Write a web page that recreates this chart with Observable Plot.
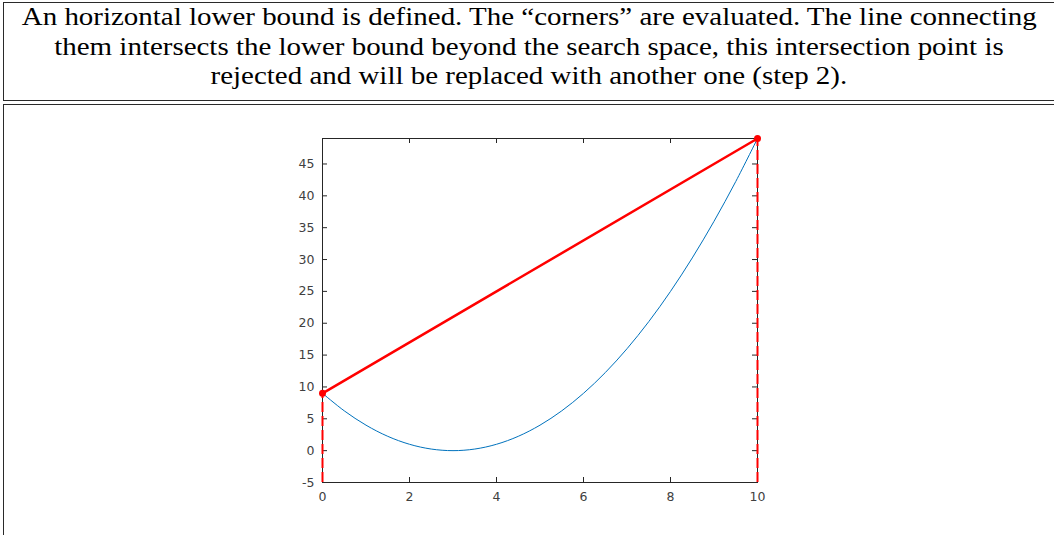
<!DOCTYPE html>
<html>
<head>
<meta charset="utf-8">
<script src="https://cdn.jsdelivr.net/npm/d3@7"></script>
<script src="https://cdn.jsdelivr.net/npm/@observablehq/plot@0.6"></script>
<style>
  html, body { margin: 0; padding: 0; background: #fff; width: 1054px; height: 535px; overflow: hidden; }
  #cap { position: absolute; left: 3px; top: 2px; width: 1056px; height: 99px; border: 1.5px solid #2a2a2a; box-sizing: border-box; }
  #cap .ln { position: absolute; left: 0; width: 1050px; text-align: center; white-space: nowrap;
             font-family: "Liberation Serif", "Times New Roman", serif; font-size: 25px; line-height: 30px; color: #000; }
  #box { position: absolute; left: 3px; top: 104px; width: 1060px; height: 500px; border: 1.5px solid #2a2a2a; box-sizing: border-box; }
  #chart { position: absolute; left: 0; top: 104px; }
  #chart svg text { font-family: "DejaVu Sans", sans-serif !important; font-size: 12.5px !important; }
</style>
</head>
<body>
<div id="cap"></div>
<div id="box"></div>
<div id="chart"></div>
<script>
const captionLines = [
  "An horizontal lower bound is defined. The \u201ccorners\u201d are evaluated. The line connecting",
  "them intersects the lower bound beyond the search space, this intersection point is",
  "rejected and will be replaced with another one (step 2)."
];
// blue curve
const curveX = [0, 0.5, 1, 1.5, 2, 2.5, 3, 3.5, 4, 4.5, 5, 5.5, 6, 6.5, 7, 7.5, 8, 8.5, 9, 9.5, 10];
const curveY = [9, 6.25, 4, 2.25, 1, 0.25, 0, 0.25, 1, 2.25, 4, 6.25, 9, 12.25, 16, 20.25, 25, 30.25, 36, 42.25, 49];
// red secant through the corners
const cornerX = [0, 10];
const cornerY = [9, 49];
const lowerBound = -5;
const xTicks = [0, 2, 4, 6, 8, 10];
const yTicks = [-5, 0, 5, 10, 15, 20, 25, 30, 35, 40, 45];

// caption
const cap = document.getElementById("cap");
const tops = [-1, 29, 58];
captionLines.forEach((t, i) => {
  const d = document.createElement("div");
  d.className = "ln";
  d.style.top = tops[i] + "px";
  const s = document.createElement("span");
  s.textContent = t;
  s.style.display = "inline-block";
  d.appendChild(s);
  cap.appendChild(d);
});
// stretch to match the original width of the first line
const spans = cap.querySelectorAll("span");
const w0 = spans[0].getBoundingClientRect().width;
const k = 1015 / w0;
spans.forEach(s => { s.style.transform = `scaleX(${k})`; });

const curve = curveX.map((x, i) => ({x, y: curveY[i]}));
const corners = cornerX.map((x, i) => ({x, y: cornerY[i]}));
const walls = corners.map(d => ({x: d.x, y1: lowerBound, y2: d.y}));

const axisColor = "#262626";
const font = "DejaVu Sans, sans-serif";
const fmt = d => String(d);

const plot = Plot.plot({
  width: 1054,
  height: 431,
  marginLeft: 322,
  marginRight: 297,
  marginTop: 34,
  marginBottom: 53,
  style: {fontFamily: font, fontSize: "12.5px", color: "#404040", background: "transparent"},
  x: {domain: [0, 10]},
  y: {domain: [-5, 49]},
  marks: [
    Plot.axisX({ticks: xTicks, tickSize: 0, tickPadding: 10, tickFormat: fmt, label: null, fill: "#404040"}),
    Plot.axisY({ticks: yTicks, tickSize: 0, tickPadding: 8, tickFormat: fmt, label: null, fill: "#404040"}),
    Plot.ruleX(xTicks, {x: d => d, y1: -5, y2: -5, insetTop: -5, stroke: axisColor}),
    Plot.ruleX(xTicks, {x: d => d, y1: 49, y2: 49, insetBottom: -5, stroke: axisColor}),
    Plot.ruleY(yTicks, {y: d => d, x1: 0, x2: 0, insetRight: -5, stroke: axisColor}),
    Plot.ruleY(yTicks, {y: d => d, x1: 10, x2: 10, insetLeft: -5, stroke: axisColor}),
    Plot.frame({stroke: axisColor, strokeWidth: 1}),
    Plot.line(curve, {x: "x", y: "y", stroke: "#0072BD", strokeWidth: 1, curve: "catmull-rom"}),
    Plot.ruleX(walls, {x: "x", y1: "y1", y2: "y2", stroke: "red", strokeWidth: 2, strokeDasharray: "10,4"}),
    Plot.line(corners, {x: "x", y: "y", stroke: "red", strokeWidth: 2.5}),
    Plot.dot(corners, {x: "x", y: "y", r: 3.5, fill: "red", stroke: "none"})
  ]
});
document.getElementById("chart").appendChild(plot);
</script>
</body>
</html>
